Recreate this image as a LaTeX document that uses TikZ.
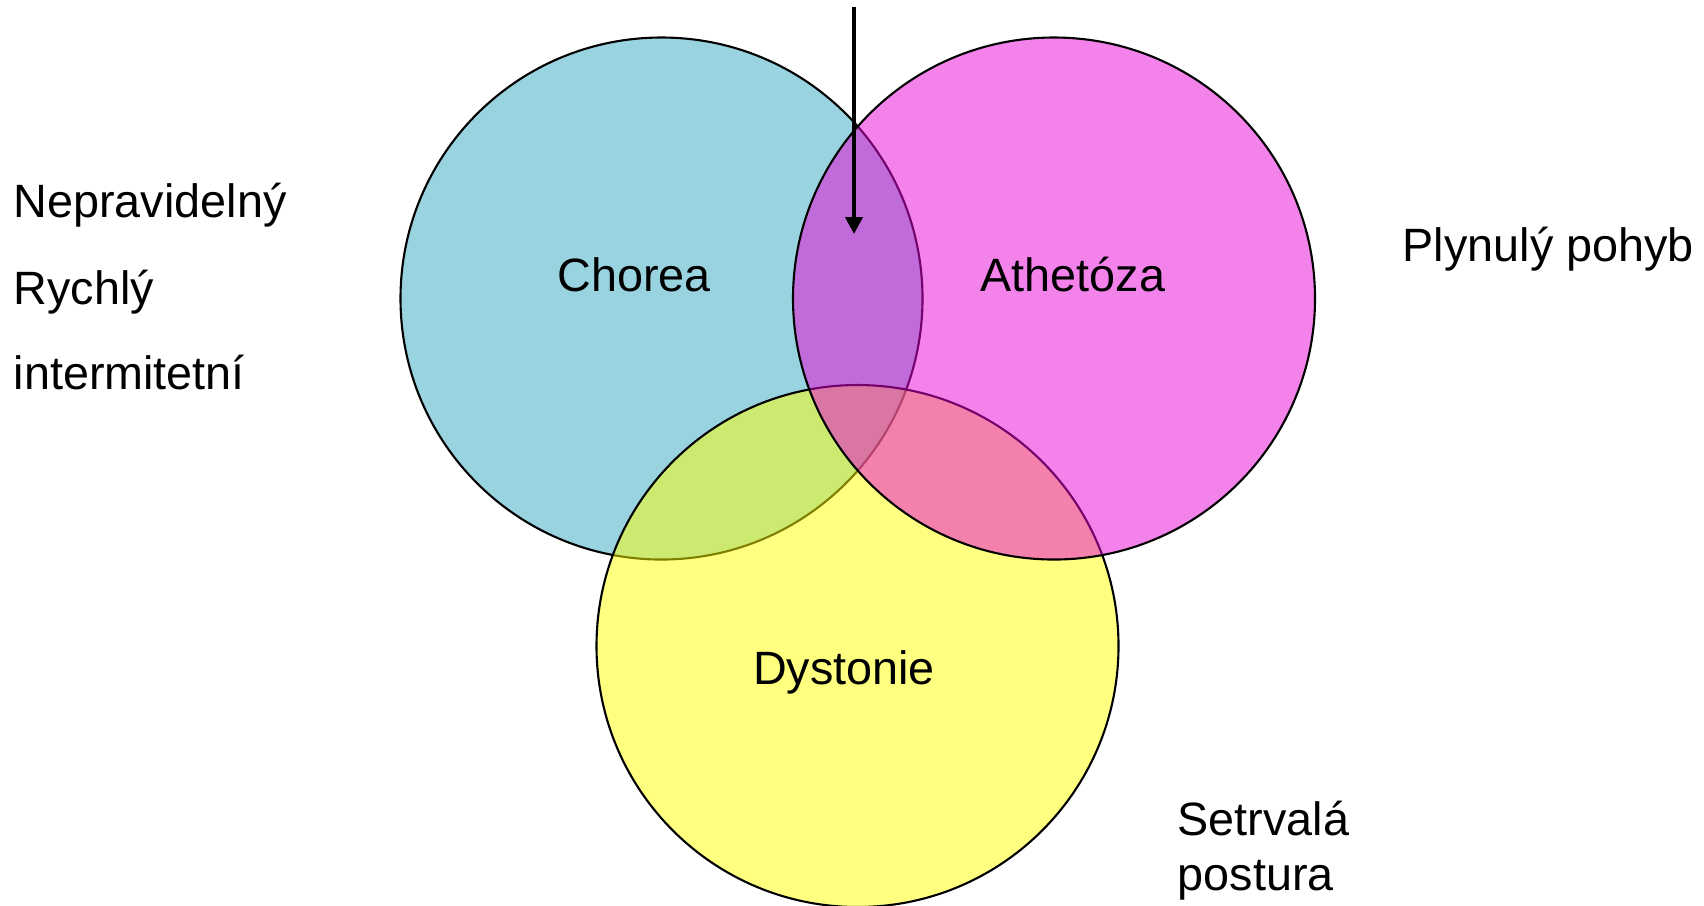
\documentclass[tikz,border=0pt]{standalone}
\usepackage{fontspec}
\setmainfont{Liberation Sans}
\usetikzlibrary{arrows.meta, positioning}

\definecolor{choreablue}{RGB}{153,211,224}
\definecolor{dystyellow}{RGB}{255,255,1}
\definecolor{athmagenta}{RGB}{233,5,215}

\begin{document}
\begin{tikzpicture}[font=\fontsize{13.3}{15.6}\selectfont]
	\tikzstyle{every circle}=[circle, draw, line width=0.6pt, minimum size=5.22cm, inner sep=0pt]
	\tikzstyle{label text}=[inner sep=0pt, anchor=base]
	\tikzstyle{side text}=[inner sep=0pt, anchor=base west, align=left]

	\useasboundingbox (0,0) rectangle (17.04,-9.05);

	% circles, drawn bottom to top
	\node[every circle, fill=choreablue] (chorea) at (6.615,-2.985) {};
	\node[every circle, fill=dystyellow, fill opacity=0.5] (dystonie) at (8.575,-6.46) {};
	\node[every circle, fill=athmagenta, fill opacity=0.5] (athetoza) at (10.54,-2.985) {};

	\node[label text] (chorea-t) at (6.34,-2.915) {Chorea};
	\node[label text] (athetoza-t) at (10.73,-2.915) {Athetóza};
	\node[label text] (dystonie-t) at (8.44,-6.845) {Dystonie};

	\node[side text] (neprav) at (0.13,-2.175) {Nepravidelný};
	\node[side text] (rychly) at (0.13,-3.045) {Rychlý};
	\node[side text] (interm) at (0.13,-3.895) {intermitetní};
	\node[side text] (plynuly) at (14.02,-2.615) {Plynulý pohyb};
	% base anchor sits on the last line here
	\node[side text] (setrvala) at (11.77,-8.90) {Setrvalá\\postura};

	\coordinate (arrowtop) at (8.54,-0.07);
	\coordinate (arrowtip) at (8.54,-2.34);
	\draw[line width=1.15pt, -{Triangle[length=1.7mm, width=1.7mm]}] (arrowtop) -- (arrowtip);
\end{tikzpicture}
\end{document}
